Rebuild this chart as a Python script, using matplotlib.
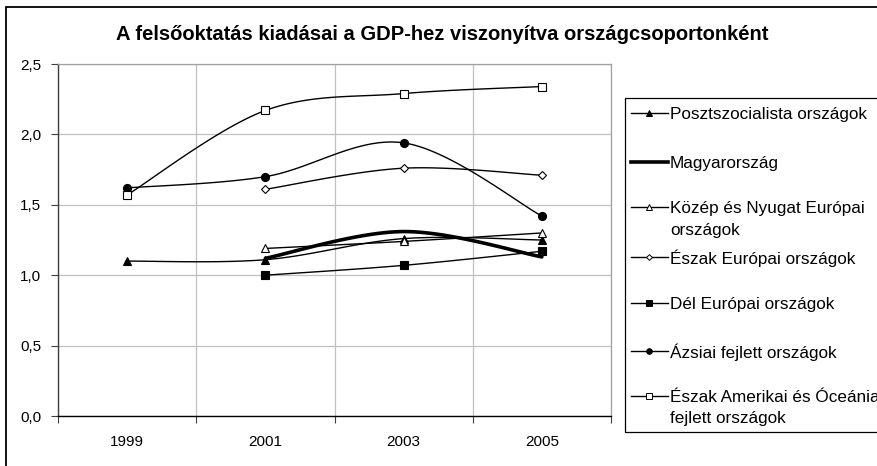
import numpy as np
import matplotlib
matplotlib.use('Agg')
import matplotlib.pyplot as plt
from matplotlib.lines import Line2D
from matplotlib.patches import Rectangle

plt.rcParams['font.family'] = ['Liberation Sans', 'DejaVu Sans']

# data
years = ['1999', '2001', '2003', '2005']
poszt = [1.10, 1.11, 1.26, 1.25]
magyar = [None, 1.12, 1.31, 1.13]
kozep = [None, 1.19, 1.24, 1.30]
eszak_eu = [None, 1.61, 1.76, 1.71]
del_eu = [None, 1.00, 1.07, 1.17]
azsia = [1.62, 1.70, 1.94, 1.42]
amerika = [1.57, 2.17, 2.29, 2.34]

names = ['Posztszocialista országok', 'Magyarország',
         'Közép és Nyugat Európai\nországok', 'Észak Európai országok',
         'Dél Európai országok', 'Ázsiai fejlett országok',
         'Észak Amerikai és Óceánia\nfejlett országok']
series = [poszt, magyar, kozep, eszak_eu, del_eu, azsia, amerika]
# marker, facecolor, markersize, linewidth
styles = [('^', 'black', 6.0, 1.0),
          (None, 'black', 0, 2.6),
          ('^', 'white', 6.0, 1.0),
          ('D', 'white', 4.2, 1.0),
          ('s', 'black', 5.2, 1.0),
          ('o', 'black', 5.8, 1.0),
          ('s', 'white', 5.2, 1.0)]


def smooth(xs, ys, n=30):
    # excel-like smoothed line (catmull-rom as bezier)
    P = np.column_stack([xs, ys])
    if len(P) < 3:
        return P[:, 0], P[:, 1]
    out = []
    for i in range(len(P) - 1):
        p0 = P[max(i - 1, 0)]
        p1 = P[i]
        p2 = P[i + 1]
        p3 = P[min(i + 2, len(P) - 1)]
        c1 = p1 + (p2 - p0) / 6.0
        c2 = p2 - (p3 - p1) / 6.0
        t = np.linspace(0, 1, n)[:, None]
        b = (1-t)**3*p1 + 3*(1-t)**2*t*c1 + 3*(1-t)*t**2*c2 + t**3*p2
        out.append(b if i == 0 else b[1:])
    out = np.vstack(out)
    return out[:, 0], out[:, 1]


W, H = 878, 466
fig = plt.figure(figsize=(W/100, H/100), dpi=100)
ax = fig.add_axes([58/W, 1 - 416/H, (611-58)/W, (416-64)/H])

xc = np.arange(len(years)) + 0.5
for vals, (mk, fc, ms, lw) in zip(series, styles):
    xs = [x for x, v in zip(xc, vals) if v is not None]
    ys = [v for v in vals if v is not None]
    sx, sy = smooth(xs, ys)
    ax.plot(sx, sy, color='black', lw=lw, solid_capstyle='round', zorder=3)
    if mk:
        ax.plot(xs, ys, ls='none', marker=mk, ms=ms, mfc=fc, mec='black',
                mew=0.8, zorder=4)

ax.set_xlim(0, 4)
ax.set_ylim(0, 2.5)
yt = np.arange(0, 2.51, 0.5)
ax.set_yticks(yt)
ax.set_yticklabels([('%.1f' % v).replace('.', ',') for v in yt])
ax.set_xticks([0, 1, 2, 3, 4])
ax.set_xticklabels([])
ax.set_xticks(xc, minor=True)
ax.set_xticklabels(years, minor=True)
ax.tick_params(axis='x', which='minor', length=0, pad=14, labelsize=11)
ax.tick_params(axis='x', which='major', length=5, width=0.8, direction='out',
               color='#404040')
ax.tick_params(axis='y', length=5, width=0.8, direction='out', pad=7,
               labelsize=11, color='#404040')
ax.grid(True, which='major', color='#c0c0c0', lw=0.9)
for s in ['top', 'right']:
    ax.spines[s].set_color('#a0a0a0')
    ax.spines[s].set_linewidth(0.9)
ax.spines['left'].set_color('#404040')
ax.spines['bottom'].set_color('black')
ax.spines['left'].set_linewidth(1.0)
ax.spines['bottom'].set_linewidth(1.0)

fig.text(442/W, 1 - 35/H, 'A felsőoktatás kiadásai a GDP-hez viszonyítva országcsoportonként',
         ha='center', va='center', fontsize=14.5, fontweight='bold')

# chart border (cropped on right and bottom)
fig.add_artist(Rectangle((6/W, -0.1), 1.2, 1 - 7/H + 0.1, transform=fig.transFigure,
                         fill=False, ec='black', lw=1.3))

# legend box (cropped on the right)
fig.add_artist(Rectangle((625/W, 1 - 432/H), 0.5, (432-98)/H, transform=fig.transFigure,
                         fill=False, ec='black', lw=0.9))
leg_y = [113, 162, 207, 257, 303, 351, 396]
for name, (mk, fc, ms, lw), y in zip(names, styles, leg_y):
    fy = 1 - y/H
    fig.add_artist(Line2D([631/W, 668/W], [fy, fy], transform=fig.transFigure,
                          color='black', lw=lw))
    if mk:
        fig.add_artist(Line2D([649.5/W], [fy], transform=fig.transFigure, ls='none',
                              marker=mk, ms=ms*0.7, mfc=fc, mec='black', mew=0.7))
    for k, line in enumerate(name.split('\n')):
        fig.text(670/W, 1 - (y + 1 + 22*k)/H, line, ha='left', va='center',
                 fontsize=12.3)

fig.savefig('out.png', dpi=100)
